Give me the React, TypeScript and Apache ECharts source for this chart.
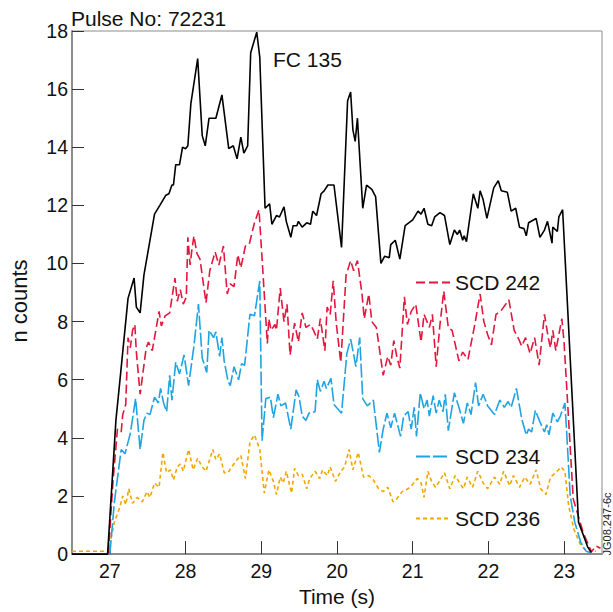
import React, { useEffect, useRef } from "react";
import * as echarts from "echarts";

// ---- Data ----
const TICK_VALUES = [27, 28, 29, 30, 31, 32, 33];
const TICK_LABELS = ["27", "28", "29", "20", "21", "22", "23"];

const FC_T = [26.5, 26.97, 27.08, 27.13, 27.24, 27.32, 27.35, 27.40, 27.45, 27.52, 27.59, 27.66, 27.74, 27.78, 27.82, 27.84, 27.87, 27.92, 27.96, 28.00, 28.03, 28.07, 28.16, 28.22, 28.26, 28.31, 28.40, 28.48, 28.57, 28.63, 28.68, 28.73, 28.77, 28.82, 28.86, 28.94, 28.98, 29.05, 29.11, 29.14, 29.20, 29.24, 29.30, 29.33, 29.39, 29.42, 29.47, 29.49, 29.54, 29.60, 29.65, 29.68, 29.73, 29.79, 29.83, 29.88, 29.96, 30.06, 30.14, 30.18, 30.21, 30.24, 30.27, 30.34, 30.39, 30.46, 30.51, 30.58, 30.63, 30.69, 30.71, 30.77, 30.83, 30.90, 31.00, 31.07, 31.11, 31.15, 31.20, 31.25, 31.29, 31.36, 31.42, 31.49, 31.55, 31.59, 31.62, 31.66, 31.68, 31.71, 31.80, 31.86, 31.89, 31.93, 31.98, 32.07, 32.13, 32.17, 32.25, 32.30, 32.36, 32.41, 32.47, 32.50, 32.53, 32.63, 32.68, 32.74, 32.78, 32.84, 32.85, 32.91, 32.93, 32.98, 33.19, 33.31, 33.36];
const FC_V = [0, 0, 4.6, 5.9, 8.8, 9.5, 8.5, 8.3, 9.6, 10.65, 11.7, 12.0, 12.35, 12.4, 12.7, 12.7, 13.4, 13.4, 14.0, 13.95, 14.05, 15.5, 17.05, 14.4, 14.05, 15.0, 15.0, 15.8, 13.95, 14.05, 13.6, 14.35, 13.8, 14.05, 17.25, 17.96, 17.1, 11.9, 12.05, 11.35, 11.65, 11.6, 11.95, 11.45, 10.9, 11.3, 11.3, 11.45, 11.25, 11.4, 11.35, 11.8, 11.65, 12.4, 12.5, 12.7, 12.7, 10.55, 15.6, 15.9, 14.6, 14.2, 15.0, 11.9, 12.7, 12.55, 12.3, 10.0, 10.25, 10.2, 10.65, 10.8, 10.15, 11.3, 11.5, 11.8, 11.7, 11.9, 11.35, 11.3, 11.6, 11.75, 11.65, 10.65, 11.15, 11.0, 11.15, 10.8, 10.95, 10.75, 12.4, 11.9, 12.5, 12.2, 11.55, 12.6, 12.85, 12.5, 12.45, 11.8, 11.9, 11.25, 11.2, 10.95, 11.4, 11.55, 10.9, 11.15, 11.45, 10.7, 11.25, 11.1, 11.6, 11.85, 1.1, 0.25, 0.05];

const SCD242_T = [26.98, 27.04, 27.10, 27.15, 27.17, 27.21, 27.24, 27.27, 27.30, 27.33, 27.35, 27.40, 27.48, 27.51, 27.56, 27.62, 27.65, 27.68, 27.73, 27.79, 27.86, 27.89, 27.93, 27.97, 28.01, 28.03, 28.06, 28.08, 28.11, 28.15, 28.19, 28.27, 28.32, 28.39, 28.44, 28.50, 28.55, 28.59, 28.64, 28.69, 28.73, 28.79, 28.84, 28.91, 28.97, 29.08, 29.10, 29.13, 29.18, 29.20, 29.25, 29.30, 29.34, 29.38, 29.44, 29.49, 29.54, 29.59, 29.65, 29.69, 29.74, 29.78, 29.84, 29.87, 29.91, 29.95, 29.99, 30.05, 30.12, 30.18, 30.22, 30.27, 30.33, 30.36, 30.42, 30.46, 30.52, 30.61, 30.67, 30.71, 30.75, 30.79, 30.83, 30.89, 30.93, 30.98, 31.04, 31.11, 31.15, 31.22, 31.26, 31.31, 31.36, 31.41, 31.47, 31.52, 31.61, 31.66, 31.73, 31.82, 31.89, 31.94, 31.99, 32.04, 32.10, 32.16, 32.27, 32.34, 32.40, 32.44, 32.49, 32.55, 32.61, 32.67, 32.74, 32.79, 32.82, 32.85, 32.89, 32.97, 33.00, 33.12, 33.25, 33.36, 33.42, 33.48];
const SCD242_V = [0, 2.45, 4.3, 4.2, 4.8, 5.15, 7.45, 7.1, 7.7, 7.9, 6.95, 5.5, 7.1, 7.3, 7.0, 7.9, 8.35, 7.85, 8.2, 8.3, 9.5, 8.7, 9.1, 8.6, 8.85, 10.9, 9.95, 10.4, 10.95, 10.35, 10.15, 8.65, 9.75, 10.4, 9.95, 10.6, 8.95, 9.3, 9.2, 10.3, 9.85, 10.6, 10.65, 11.4, 11.85, 7.25, 8.1, 7.7, 7.9, 7.7, 9.15, 8.0, 8.6, 6.85, 7.95, 7.3, 8.3, 7.8, 7.9, 7.7, 7.4, 8.1, 7.0, 8.5, 8.25, 9.4, 7.95, 6.6, 9.6, 10.1, 9.75, 10.1, 8.95, 8.1, 8.95, 8.0, 7.8, 6.15, 6.8, 6.5, 7.35, 6.8, 6.4, 8.85, 7.9, 8.35, 8.6, 7.3, 8.25, 7.8, 8.25, 6.45, 7.9, 9.05, 7.8, 7.7, 6.65, 6.95, 6.7, 7.9, 8.95, 8.0, 7.55, 7.2, 8.25, 8.35, 8.75, 7.7, 7.4, 7.15, 7.45, 6.9, 7.45, 6.5, 8.25, 7.45, 7.1, 7.7, 7.0, 8.1, 7.25, 1.9, 0.75, 0.08, 0.28, 0.2];

const SCD234_T = [27.0, 27.06, 27.15, 27.20, 27.27, 27.34, 27.40, 27.45, 27.49, 27.53, 27.59, 27.64, 27.67, 27.71, 27.75, 27.79, 27.82, 27.87, 27.92, 27.98, 28.04, 28.11, 28.17, 28.22, 28.28, 28.31, 28.37, 28.40, 28.45, 28.48, 28.51, 28.56, 28.59, 28.64, 28.70, 28.74, 28.78, 28.85, 28.91, 28.98, 29.01, 29.06, 29.12, 29.16, 29.22, 29.26, 29.32, 29.39, 29.46, 29.50, 29.54, 29.59, 29.63, 29.71, 29.74, 29.78, 29.83, 29.86, 29.92, 29.96, 30.06, 30.13, 30.18, 30.21, 30.25, 30.30, 30.34, 30.40, 30.48, 30.56, 30.61, 30.66, 30.71, 30.76, 30.80, 30.84, 30.88, 30.94, 30.98, 31.02, 31.05, 31.10, 31.15, 31.19, 31.22, 31.27, 31.31, 31.35, 31.40, 31.43, 31.47, 31.55, 31.61, 31.67, 31.72, 31.77, 31.83, 31.87, 31.93, 31.99, 32.08, 32.15, 32.21, 32.26, 32.30, 32.37, 32.44, 32.50, 32.53, 32.57, 32.62, 32.68, 32.74, 32.77, 32.80, 32.85, 32.91, 32.95, 33.01, 33.03, 33.08, 33.14, 33.22, 33.29, 33.35];
const SCD234_V = [0, 1.8, 3.6, 3.45, 4.15, 5.35, 3.6, 4.6, 4.85, 4.8, 5.4, 5.2, 5.7, 5.2, 4.9, 6.15, 5.3, 6.6, 6.2, 6.85, 5.8, 7.15, 8.6, 6.75, 6.25, 7.7, 7.45, 7.65, 6.8, 7.45, 6.65, 5.95, 5.8, 6.45, 6.0, 6.55, 6.5, 8.25, 8.2, 9.4, 3.9, 5.35, 5.4, 4.7, 5.5, 5.1, 5.2, 4.3, 5.65, 5.4, 4.75, 4.6, 4.85, 4.9, 6.0, 5.6, 5.95, 5.7, 6.05, 5.15, 4.85, 6.9, 7.4, 7.0, 6.45, 7.45, 5.35, 5.1, 5.3, 3.5, 4.3, 4.85, 4.35, 4.85, 4.45, 4.05, 4.75, 4.9, 4.3, 5.05, 4.05, 5.55, 5.0, 5.3, 4.75, 5.45, 4.85, 5.3, 4.9, 5.5, 4.25, 5.55, 5.05, 4.5, 5.2, 4.8, 5.9, 5.1, 5.5, 5.1, 4.8, 5.3, 5.05, 5.25, 5.05, 5.7, 4.65, 4.1, 4.3, 4.2, 4.95, 4.55, 4.2, 4.45, 4.1, 4.85, 4.55, 4.75, 5.2, 4.35, 2.0, 1.1, 0.4, 0.1, 0.05];

const SCD236_T = [26.5, 26.98, 27.06, 27.13, 27.17, 27.21, 27.25, 27.30, 27.36, 27.43, 27.49, 27.53, 27.59, 27.65, 27.70, 27.75, 27.80, 27.84, 27.89, 27.93, 27.97, 28.04, 28.10, 28.16, 28.22, 28.27, 28.36, 28.40, 28.45, 28.51, 28.56, 28.61, 28.68, 28.73, 28.79, 28.85, 28.91, 28.98, 29.04, 29.10, 29.16, 29.20, 29.25, 29.29, 29.33, 29.40, 29.44, 29.49, 29.54, 29.60, 29.64, 29.71, 29.77, 29.81, 29.87, 29.91, 29.98, 30.05, 30.10, 30.16, 30.21, 30.28, 30.35, 30.42, 30.48, 30.55, 30.61, 30.67, 30.74, 30.79, 30.86, 30.94, 31.00, 31.06, 31.11, 31.15, 31.20, 31.25, 31.30, 31.35, 31.42, 31.49, 31.56, 31.62, 31.67, 31.72, 31.79, 31.86, 31.93, 31.99, 32.08, 32.15, 32.20, 32.28, 32.33, 32.41, 32.48, 32.55, 32.63, 32.69, 32.76, 32.82, 32.89, 32.96, 33.01, 33.06, 33.13, 33.21, 33.30, 33.42];
const SCD236_V = [0.1, 0.1, 1.1, 1.6, 2.0, 1.7, 2.25, 1.75, 1.95, 1.8, 2.15, 1.95, 2.45, 2.3, 3.5, 2.8, 2.9, 2.55, 3.0, 3.1, 2.85, 3.6, 2.9, 3.3, 3.0, 2.85, 3.6, 3.25, 3.45, 2.8, 2.8, 3.0, 3.25, 3.4, 2.6, 3.85, 4.1, 3.6, 2.1, 2.9, 2.5, 2.05, 2.65, 2.45, 2.85, 2.1, 2.95, 2.7, 2.75, 2.25, 2.6, 2.85, 2.6, 2.9, 2.7, 3.0, 2.5, 2.85, 3.0, 3.6, 2.9, 3.5, 2.65, 2.7, 2.55, 2.25, 2.15, 2.3, 1.8, 1.9, 2.15, 2.25, 2.4, 2.6, 2.45, 1.95, 2.85, 2.5, 2.3, 2.5, 2.8, 2.25, 2.7, 2.45, 2.25, 2.65, 2.3, 2.85, 2.45, 2.25, 2.65, 2.4, 2.85, 2.35, 2.7, 2.3, 2.65, 2.4, 2.9, 2.25, 2.05, 2.65, 2.8, 3.0, 2.85, 1.65, 0.85, 0.35, 0.08, 0.1];

const zip = (t: number[], v: number[]) => t.map((x, i) => [x, v[i]]);

const FONT = "Liberation Sans, Arial, Helvetica, sans-serif";
const AXIS_GRAY = "#8c8c8c";
const C_RED = "#e3173e";
const C_BLUE = "#1ea4e3";
const C_ORANGE = "#f2a600";

export default function App() {
  const ref = useRef<HTMLDivElement>(null);
  useEffect(() => {
    if (!ref.current) return;
    const chart = echarts.init(ref.current, null, { renderer: "svg" });
    const legendBase = {
      orient: "horizontal" as const,
      left: 415,
      itemWidth: 34,
      itemHeight: 14,
      itemGap: 0,
      itemStyle: { opacity: 0 },
      textStyle: { fontFamily: FONT, fontSize: 21, color: "#111", padding: [0, 0, 0, 0] },
      padding: 0,
      selectedMode: false,
    };
    chart.setOption({
      animation: false,
      backgroundColor: "#fff",
      grid: {
        left: 72,
        right: 11,
        top: 31,
        bottom: 53,
        show: true,
        borderColor: AXIS_GRAY,
        borderWidth: 1,
        containLabel: false,
      },
      title: [
        {
          text: "Pulse No: 72231",
          left: 71,
          top: 8,
          padding: 0,
          textStyle: { fontFamily: FONT, fontSize: 21, fontWeight: "normal", color: "#111" },
        },
        {
          text: "FC 135",
          left: 273,
          top: 49,
          padding: 0,
          textStyle: { fontFamily: FONT, fontSize: 21, fontWeight: "normal", color: "#111" },
        },
      ],
      legend: [
        { ...legendBase, top: 272, data: ["SCD 242"] },
        { ...legendBase, top: 446, data: ["SCD 234"] },
        { ...legendBase, top: 508, data: ["SCD 236"] },
      ],
      graphic: [
        {
          type: "text",
          x: 19,
          y: 301,
          rotation: Math.PI / 2,
          style: {
            text: "n counts",
            fontFamily: FONT,
            fontSize: 22,
            fill: "#111",
            align: "center",
            verticalAlign: "middle",
          },
        },
        {
          type: "text",
          x: 607,
          y: 524,
          rotation: Math.PI / 2,
          style: {
            text: "JG08.247-6c",
            fontFamily: FONT,
            fontSize: 11,
            fill: "#222",
            align: "center",
            verticalAlign: "middle",
          },
        },
      ],
      xAxis: {
        type: "value",
        min: 26.5,
        max: 33.5,
        splitNumber: 7,
        name: "Time (s)",
        nameLocation: "middle",
        nameGap: 27,
        nameTextStyle: { fontFamily: FONT, fontSize: 21, color: "#111" },
        axisLine: { show: true, onZero: false, lineStyle: { color: AXIS_GRAY, width: 2 } },
        axisTick: { show: true, inside: true, length: 13, lineStyle: { color: "#333", width: 1 } },
        axisLabel: {
          fontFamily: FONT,
          fontSize: 19.5,
          color: "#111",
          margin: 7,
          showMinLabel: false,
          showMaxLabel: false,
          formatter: (v: number) => {
            const i = TICK_VALUES.findIndex((t) => Math.abs(t - v) < 1e-6);
            return i >= 0 ? TICK_LABELS[i] : "";
          },
        },
        splitLine: { show: false },
      },
      yAxis: {
        type: "value",
        min: 0,
        max: 18,
        interval: 2,
        axisLine: { show: true, lineStyle: { color: AXIS_GRAY, width: 2 } },
        axisTick: { show: true, inside: true, length: 12, lineStyle: { color: "#333", width: 1 } },
        axisLabel: { fontFamily: FONT, fontSize: 19.5, color: "#111", margin: 4 },
        splitLine: { show: false },
      },
      series: [
        {
          name: "SCD 236",
          type: "line",
          data: zip(SCD236_T, SCD236_V),
          symbol: "none",
          lineStyle: { color: C_ORANGE, width: 1.6, type: [4, 3] },
          itemStyle: { color: C_ORANGE },
        },
        {
          name: "SCD 234",
          type: "line",
          data: zip(SCD234_T, SCD234_V),
          symbol: "none",
          lineStyle: { color: C_BLUE, width: 1.6, type: [14, 3] },
          itemStyle: { color: C_BLUE },
        },
        {
          name: "SCD 242",
          type: "line",
          data: zip(SCD242_T, SCD242_V),
          symbol: "none",
          lineStyle: { color: C_RED, width: 1.6, type: [9, 4] },
          itemStyle: { color: C_RED },
        },
        {
          name: "FC 135",
          type: "line",
          data: zip(FC_T, FC_V),
          symbol: "none",
          lineStyle: { color: "#000", width: 1.6 },
          itemStyle: { color: "#000" },
        },
      ],
    });
    return () => chart.dispose();
  }, []);
  return <div ref={ref} style={{ width: 613, height: 612, position: "absolute", left: 0, top: 0 }} />;
}
